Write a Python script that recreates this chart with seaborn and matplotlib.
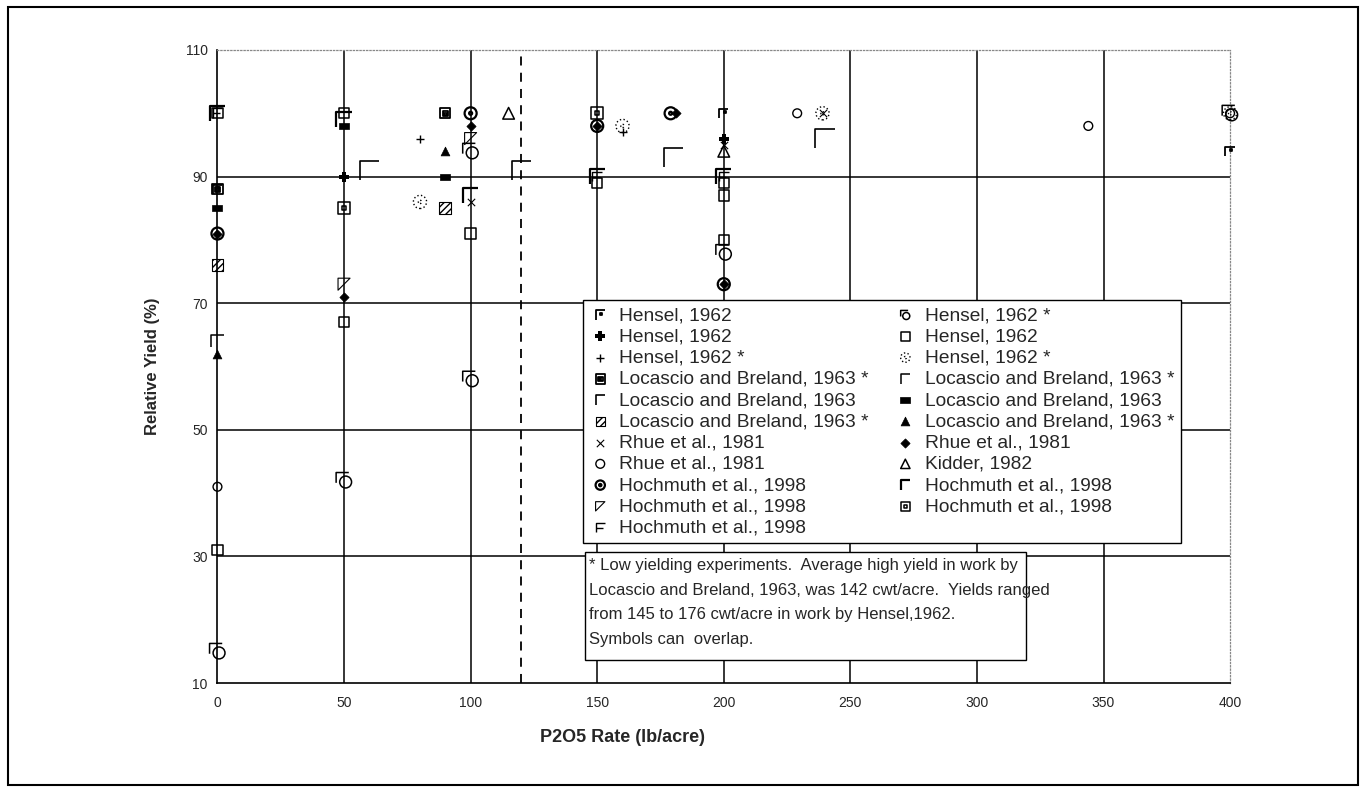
import numpy as np
import matplotlib
matplotlib.use('Agg')
import matplotlib.pyplot as plt
from matplotlib.path import Path
from matplotlib.patches import Rectangle
import seaborn as sns

sns.set_style('white')
plt.rcParams['font.family'] = ['Liberation Sans', 'DejaVu Sans']

# data: x / y values for each legend entry, in legend order
hensel_a_x = [0, 200, 400]
hensel_a_y = [88, 100, 94]
hensel_b_x = [50, 200]
hensel_b_y = [90, 96]
hensel_c_x = [80, 160]
hensel_c_y = [96, 97]
loc_a_x = [0, 90]
loc_a_y = [88, 100]
loc_b_x = [60, 120, 180, 240]
loc_b_y = [91, 91, 93, 96]
loc_c_x = [0, 90]
loc_c_y = [76, 85]
rhue_a_x = [100, 200, 239]
rhue_a_y = [86, 95, 100]
rhue_b_x = [0, 229, 344, 400]
rhue_b_y = [41, 100, 98, 100]
hoch_a_x = [0, 100, 150, 179, 200]
hoch_a_y = [81, 100, 98, 100, 73]
hoch_b_x = [50, 100]
hoch_b_y = [73, 96]
hoch_c_x = [0, 150, 200]
hoch_c_y = [100, 90, 90]
hensel_d_x = [0, 50, 100, 100, 200, 400]
hensel_d_y = [15, 42, 58, 94, 78, 100]
hensel_e_x = [0, 0, 50, 50, 100, 150, 200, 200, 200]
hensel_e_y = [31, 100, 100, 67, 81, 89, 89, 87, 80]
hensel_f_x = [80, 160, 239, 400]
hensel_f_y = [86, 98, 100, 100]
loc_d_x = [0]
loc_d_y = [64]
loc_e_x = [0, 50, 90]
loc_e_y = [85, 98, 90]
loc_f_x = [0, 90]
loc_f_y = [62, 94]
rhue_c_x = [0, 50, 100, 150, 181, 200]
rhue_c_y = [81, 71, 98, 98, 100, 73]
kidder_x = [115, 200]
kidder_y = [100, 94]
hoch_d_x = [0, 50, 100, 150, 200]
hoch_d_y = [100, 99, 87, 90, 90]
hoch_e_x = [50, 150]
hoch_e_y = [85, 100]

xticks = [0, 50, 100, 150, 200, 250, 300, 350, 400]
yticks = [10, 30, 50, 70, 90, 110]
cutoff = 120

note = ('* Low yielding experiments.  Average high yield in work by\n'
        'Locascio and Breland, 1963, was 142 cwt/acre.  Yields ranged\n'
        'from 145 to 176 cwt/acre in work by Hensel,1962.\n'
        'Symbols can  overlap.')

# marker shapes
M, L, C = Path.MOVETO, Path.LINETO, Path.CLOSEPOLY
gamma = Path([(-1, -1), (-1, 1), (1, 1)], [M, L, L])
gamma_dot = Path([(-1, -1), (-1, 1), (1, 1), (0, 0.4), (0.4, 0.4), (0.4, 0), (0, 0), (0, 0.4)],
                 [M, L, L, M, L, L, L, C])
f_shape = Path([(-1, -1), (-1, 1), (1, 1), (-1, 0), (0.5, 0)], [M, L, L, M, L])
tri_corner = Path([(-1, -1), (-1, 1), (1, 1), (-1, -1)], [M, L, L, C])
sq_in_sq = Path([(-1, -1), (1, -1), (1, 1), (-1, 1), (-1, -1),
                 (-0.35, -0.35), (0.35, -0.35), (0.35, 0.35), (-0.35, 0.35), (-0.35, -0.35)],
                [M, L, L, L, C, M, L, L, L, C])
sq_fill = Path([(-1, -1), (1, -1), (1, 1), (-1, 1), (-1, -1),
                (-0.5, -0.5), (0.5, -0.5), (0.5, 0.4), (-0.5, 0.4), (-0.5, -0.5),
                (-0.25, -0.25), (0.25, -0.25), (0.25, 0.15), (-0.25, 0.15), (-0.25, -0.25)],
               [M, L, L, L, C, M, L, L, L, C, M, L, L, L, C])
circ = Path.unit_circle()
d_shape = Path.make_compound_path(
    Path([(-1, -0.3), (-1, 1), (0.6, 1)], [M, L, L]),
    Path(circ.vertices * 0.75 + np.array([0.2, -0.2]), circ.codes))
circ_dot = Path.make_compound_path(circ, Path(circ.vertices * 0.25, circ.codes))
flat_rect = Path([(-1, -0.55), (1, -0.55), (1, 0.55), (-1, 0.55), (-1, -0.55)], [M, L, L, L, C])

series = [
    ('Hensel, 1962', hensel_a_x, hensel_a_y, dict(marker=gamma_dot, s=45, facecolor='none', linewidth=1.3)),
    ('Hensel, 1962', hensel_b_x, hensel_b_y, dict(marker='P', s=55, facecolor='k', linewidth=0)),
    ('Hensel, 1962 *', hensel_c_x, hensel_c_y, dict(marker='+', s=40, linewidth=1)),
    ('Locascio and Breland, 1963 *', loc_a_x, loc_a_y, dict(marker=sq_fill, s=55, facecolor='none', linewidth=1.3)),
    ('Locascio and Breland, 1963', loc_b_x, loc_b_y, dict(marker=gamma, s=190, facecolor='none', linewidth=1.2)),
    ('Locascio and Breland, 1963 *', loc_c_x, loc_c_y, dict(marker='s', s=70, facecolor='none', hatch='/////', linewidth=0.8)),
    ('Rhue et al., 1981', rhue_a_x, rhue_a_y, dict(marker='x', s=28, linewidth=0.8)),
    ('Rhue et al., 1981', rhue_b_x, rhue_b_y, dict(marker='o', s=40, facecolor='none', linewidth=1)),
    ('Hochmuth et al., 1998', hoch_a_x, hoch_a_y, dict(marker=circ_dot, s=75, facecolor='none', linewidth=1.6)),
    ('Hochmuth et al., 1998', hoch_b_x, hoch_b_y, dict(marker=tri_corner, s=75, facecolor='none', linewidth=0.8)),
    ('Hochmuth et al., 1998', hoch_c_x, hoch_c_y, dict(marker=f_shape, s=50, facecolor='none', linewidth=1)),
    ('Hensel, 1962 *', hensel_d_x, hensel_d_y, dict(marker=d_shape, s=130, facecolor='none', linewidth=1.1)),
    ('Hensel, 1962', hensel_e_x, hensel_e_y, dict(marker='s', s=55, facecolor='none', linewidth=1.1)),
    ('Hensel, 1962 *', hensel_f_x, hensel_f_y, dict(marker=circ_dot, s=90, facecolor='none', linewidth=1, linestyle=':')),
    ('Locascio and Breland, 1963 *', loc_d_x, loc_d_y, dict(marker=gamma, s=80, facecolor='none', linewidth=1.1)),
    ('Locascio and Breland, 1963', loc_e_x, loc_e_y, dict(marker=flat_rect, s=60, facecolor='k', linewidth=0.5)),
    ('Locascio and Breland, 1963 *', loc_f_x, loc_f_y, dict(marker='^', s=40, facecolor='k', linewidth=0.5)),
    ('Rhue et al., 1981', rhue_c_x, rhue_c_y, dict(marker='D', s=22, facecolor='k', linewidth=0.5)),
    ('Kidder, 1982', kidder_x, kidder_y, dict(marker='^', s=70, facecolor='none', linewidth=1.1)),
    ('Hochmuth et al., 1998', hoch_d_x, hoch_d_y, dict(marker=gamma, s=120, facecolor='none', linewidth=1.6)),
    ('Hochmuth et al., 1998', hoch_e_x, hoch_e_y, dict(marker=sq_in_sq, s=70, facecolor='none', linewidth=1.1)),
]

fig = plt.figure(figsize=(13.66, 7.92), dpi=100)
ax = fig.add_axes([0.1592, 0.1376, 0.7413, 0.7993])

# grid: solid black interior lines, dotted grey on top/right
for yv in yticks[1:-1]:
    ax.axhline(yv, color='k', lw=1.1, zorder=1)
for xv in xticks[1:-1]:
    ax.axvline(xv, color='k', lw=1.1, zorder=1)
ax.axvline(cutoff, color='k', lw=1.3, ls=(0, (5, 4)), zorder=1)

for lab, xs, ys, kw in series:
    sns.scatterplot(x=xs, y=ys, color='k', edgecolor='k' if kw.get('marker') not in ('+', 'x') else None,
                    label=lab, ax=ax, zorder=3, clip_on=False, **kw)

ax.set_xlim(0, 400)
ax.set_ylim(10, 110)
ax.set_xticks(xticks)
ax.set_yticks(yticks)
ax.tick_params(axis='both', labelsize=10, length=4, width=1, direction='out', color='k', pad=3)
ax.tick_params(axis='x', pad=5)
for sp in ['left', 'bottom']:
    ax.spines[sp].set_color('k')
    ax.spines[sp].set_linewidth(1.2)
for sp in ['top', 'right']:
    ax.spines[sp].set_color('#888888')
    ax.spines[sp].set_linewidth(0.9)
    ax.spines[sp].set_linestyle(':')

ax.set_xlabel('P2O5 Rate (lb/acre)', fontsize=13, fontweight='bold')
ax.xaxis.set_label_coords(0.40, -0.072)
ax.set_ylabel('Relative Yield (%)', fontsize=12, fontweight='bold')
ax.yaxis.set_label_coords(-0.057, 0.5)

leg = ax.legend(ncol=2, loc='upper left', bbox_to_anchor=(583 / 1366, 1 - 300 / 792),
                bbox_transform=fig.transFigure, frameon=True, fancybox=False,
                fontsize=13.8, labelspacing=0.2, handletextpad=0.45, columnspacing=1.35,
                handlelength=1.1, borderpad=0.35, borderaxespad=0)
leg.get_frame().set_edgecolor('k')
leg.get_frame().set_linewidth(1)
leg.get_frame().set_alpha(1)
for h in leg.legend_handles:
    h.set_sizes([min(h.get_sizes()[0], 45)])

# note box
fig.patches.append(Rectangle((585 / 1366, 1 - 660 / 792), 441 / 1366, 108 / 792,
                             transform=fig.transFigure, facecolor='white', edgecolor='k',
                             lw=1, zorder=5))
fig.text(589 / 1366, 1 - 558 / 792, note, fontsize=12, va='top', ha='left',
         linespacing=1.8, zorder=6)

# outer border
fig.patches.append(Rectangle((8 / 1366, 7 / 792), 1350 / 1366, 778 / 792,
                             transform=fig.transFigure, facecolor='none', edgecolor='k',
                             lw=1.5, zorder=0))

fig.savefig('out.png', dpi=100)
